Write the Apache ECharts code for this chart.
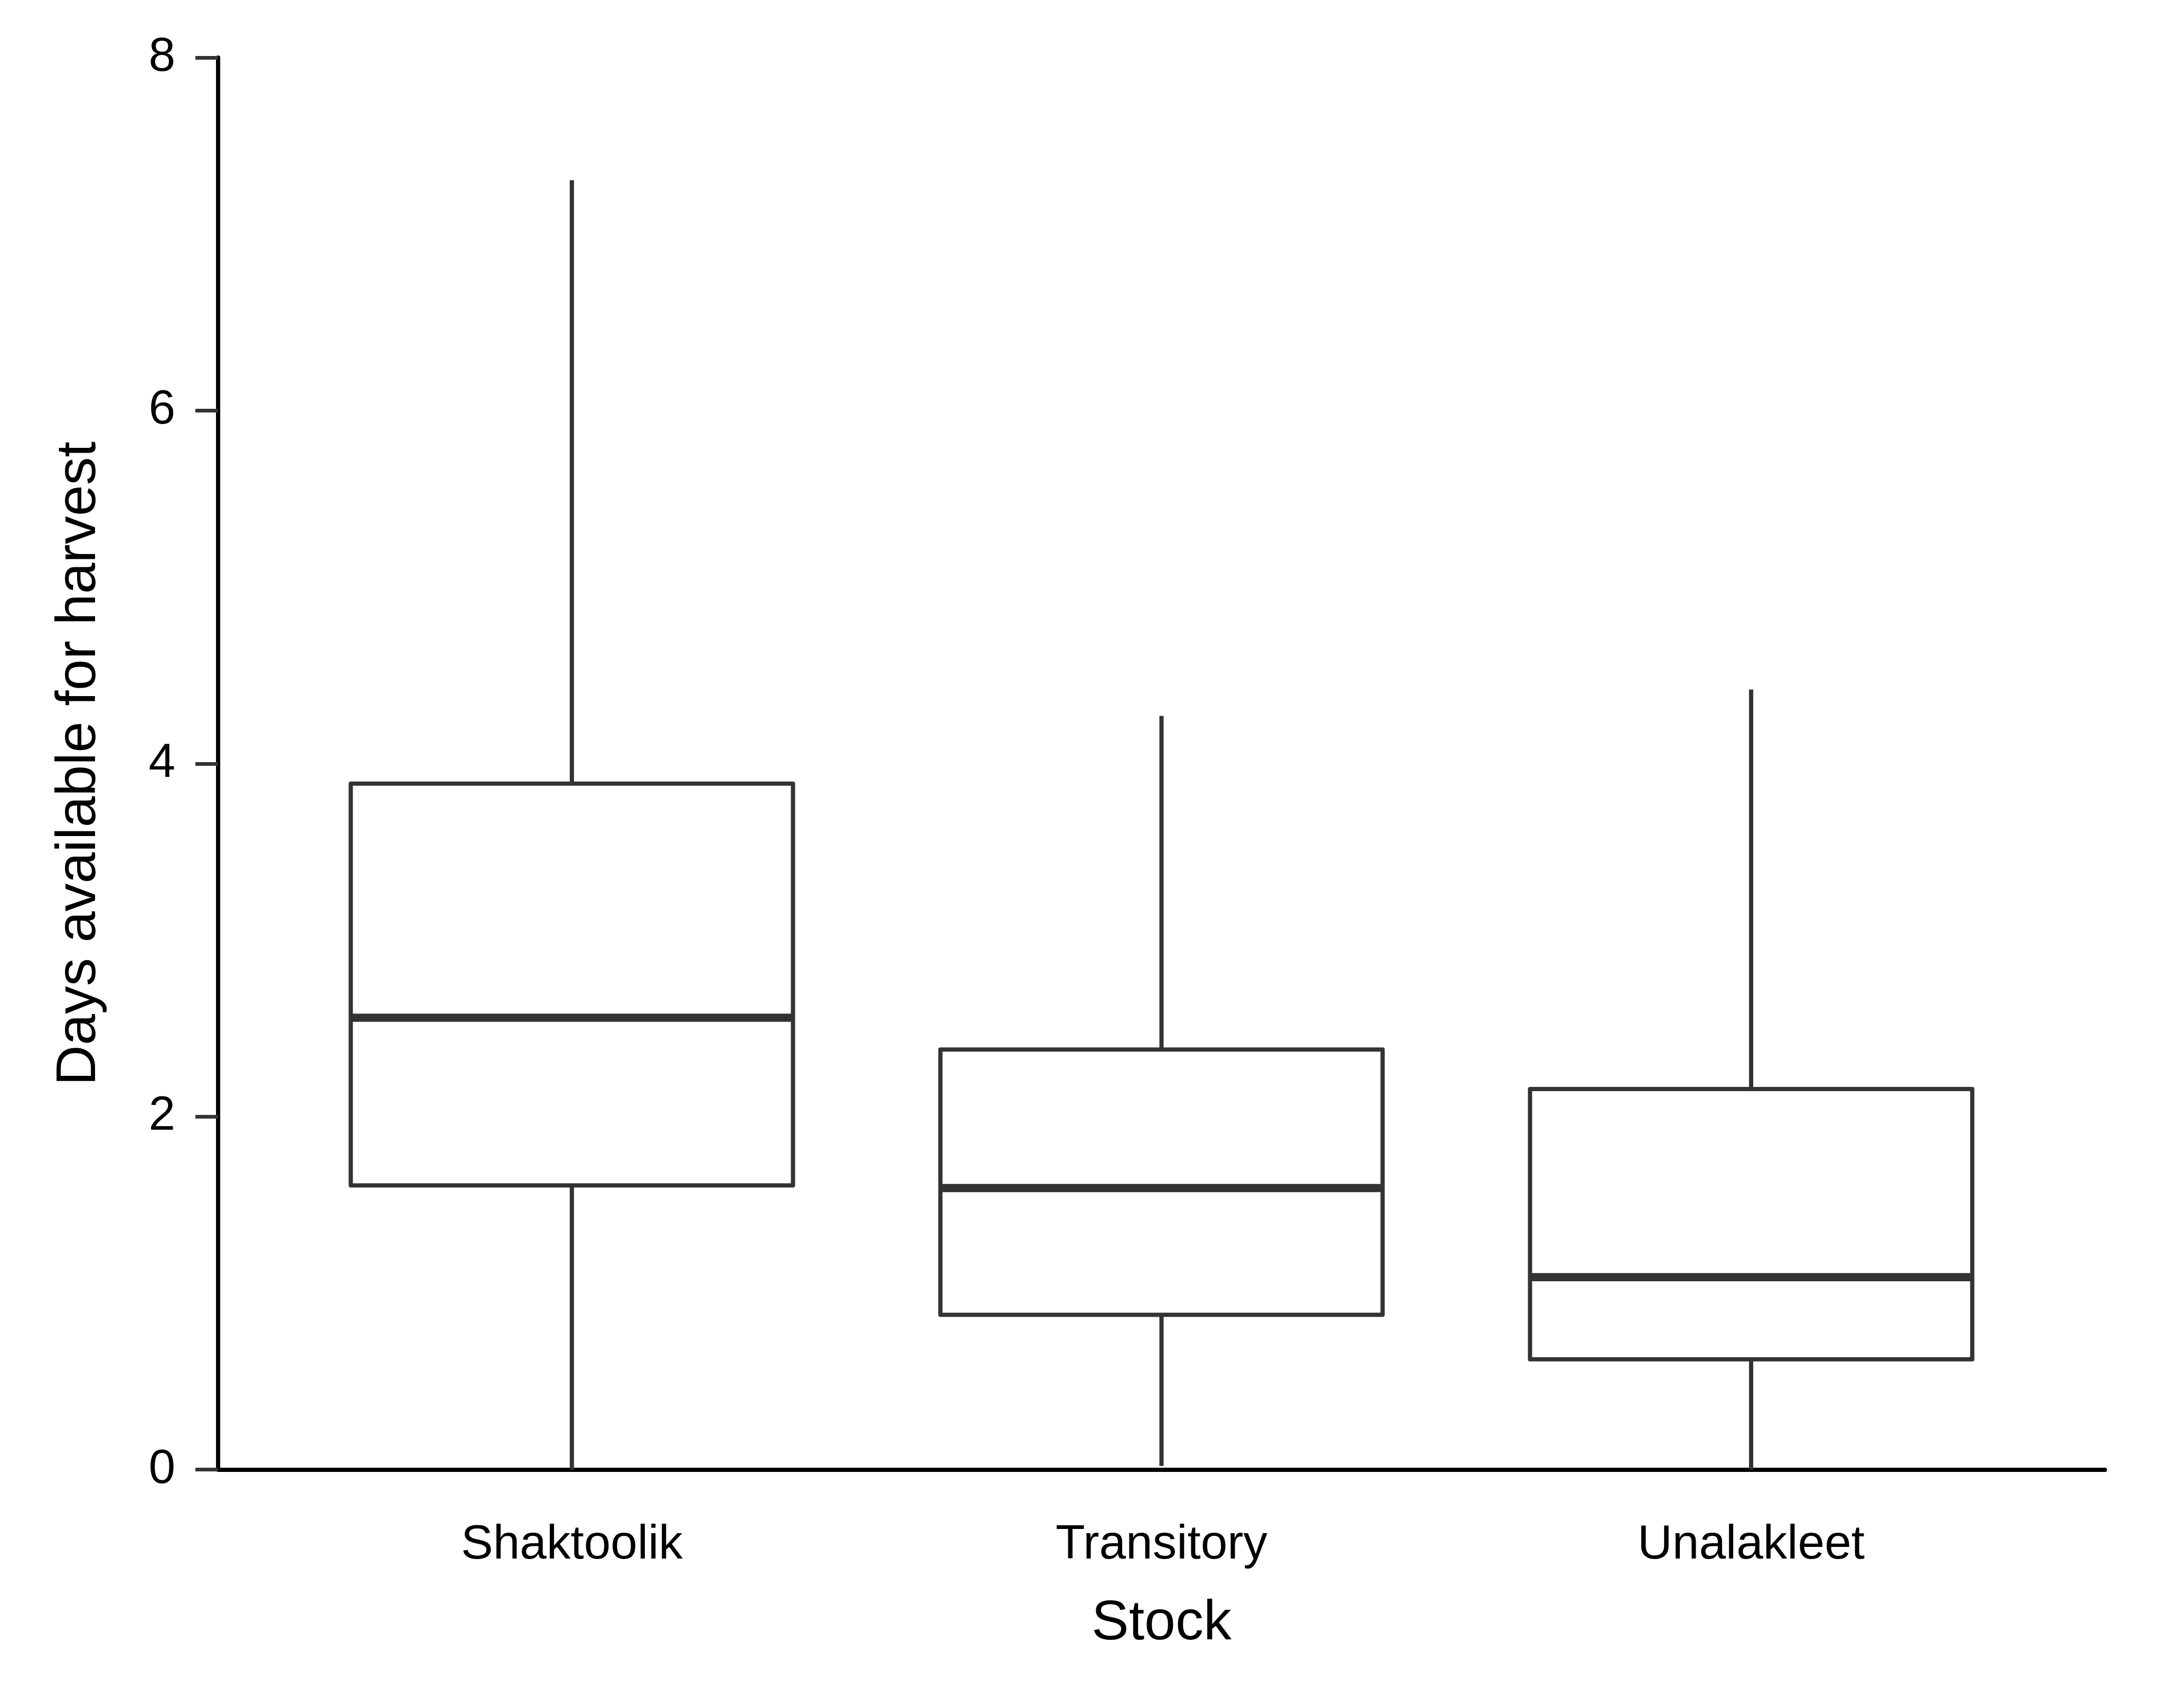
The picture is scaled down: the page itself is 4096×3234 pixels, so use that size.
<!DOCTYPE html>
<html>
<head>
<meta charset="utf-8">
<script src="https://cdn.jsdelivr.net/npm/echarts@6/dist/echarts.min.js"></script>
<style>
html,body{margin:0;padding:0;background:#fff;}
#chart{width:4096px;height:3234px;}
</style>
</head>
<body>
<div id="chart"></div>
<script>
// ---- data ----
const categories = ['Shaktoolik', 'Transitory', 'Unalakleet'];
const whiskerLow  = [0.00, 0.02, 0.00];
const q1          = [1.61, 0.877, 0.625];
const median      = [2.56, 1.595, 1.09];
const q3          = [3.886, 2.38, 2.156];
const whiskerHigh = [7.305, 4.27, 4.42];
const yTicks = [0, 2, 4, 6, 8];

const xTitle = 'Stock';
const yTitle = 'Days available for harvest';

const boxData = categories.map((c, i) => [i + 1, whiskerLow[i], q1[i], median[i], q3[i], whiskerHigh[i]]);

const FONT = 'Liberation Sans, Arial, sans-serif';
const STROKE = '#333333';

const chart = echarts.init(document.getElementById('chart'));

chart.setOption({
  backgroundColor: '#ffffff',
  animation: false,
  grid: { left: 413, right: 110, top: 109, bottom: 451.5, containLabel: false },
  xAxis: {
    type: 'value',
    min: 0.4,
    max: 3.6,
    name: xTitle,
    nameLocation: 'middle',
    nameGap: 239,
    nameTextStyle: { fontFamily: FONT, fontSize: 106, color: '#000', lineHeight: 106 },
    axisLine: { show: true, lineStyle: { color: '#000', width: 8 } },
    axisTick: { show: false },
    splitLine: { show: false },
    axisLabel: {
      customValues: [1, 2, 3],
      formatter: v => categories[Math.round(v) - 1] || '',
      fontFamily: FONT, fontSize: 91, color: '#000', lineHeight: 91, margin: 98
    }
  },
  yAxis: {
    type: 'value',
    min: 0,
    max: 8,
    interval: 2,
    name: yTitle,
    nameLocation: 'middle',
    nameGap: 209,
    nameRotate: 90,
    nameTextStyle: { fontFamily: FONT, fontSize: 106, color: '#000', lineHeight: 106 },
    axisLine: { show: true, lineStyle: { color: '#000', width: 8 } },
    axisTick: { show: true, length: 43, lineStyle: { color: STROKE, width: 7 } },
    splitLine: { show: false },
    axisLabel: {
      customValues: yTicks,
      fontFamily: FONT, fontSize: 91, color: '#000', margin: 81
    }
  },
  series: [{
    type: 'custom',
    data: boxData,
    encode: { x: 0, y: [1, 2, 3, 4, 5] },
    renderItem: function (params, api) {
      const x = api.value(0);
      const pLow = api.coord([x, api.value(1)]);
      const pQ1 = api.coord([x, api.value(2)]);
      const pMed = api.coord([x, api.value(3)]);
      const pQ3 = api.coord([x, api.value(4)]);
      const pHigh = api.coord([x, api.value(5)]);
      const halfW = api.size([0.75, 0])[0] / 2;
      const cx = pMed[0];
      const lineStyle = { stroke: STROKE, lineWidth: 8, fill: null };
      return {
        type: 'group',
        children: [
          { type: 'line', shape: { x1: cx, y1: pQ1[1], x2: cx, y2: pLow[1] }, style: lineStyle },
          { type: 'line', shape: { x1: cx, y1: pQ3[1], x2: cx, y2: pHigh[1] }, style: lineStyle },
          { type: 'rect', shape: { x: cx - halfW, y: pQ3[1], width: 2 * halfW, height: pQ1[1] - pQ3[1] },
            style: { fill: '#ffffff', stroke: STROKE, lineWidth: 8, lineJoin: 'round' } },
          { type: 'line', shape: { x1: cx - halfW, y1: pMed[1], x2: cx + halfW, y2: pMed[1] },
            style: { stroke: STROKE, lineWidth: 15.5 } }
        ]
      };
    }
  }]
});
</script>
</body>
</html>
